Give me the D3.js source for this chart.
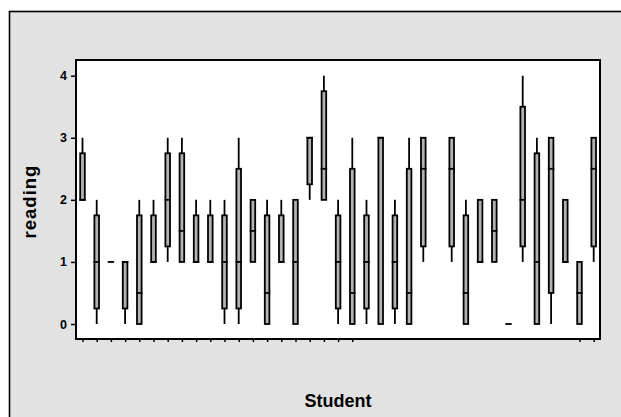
<!DOCTYPE html>
<html>
<head>
<meta charset="utf-8">
<script src="https://cdn.jsdelivr.net/npm/d3@7"></script>
<style>
  html, body { margin: 0; padding: 0; background: #ffffff; }
  svg { display: block; }
  text { font-family: "Liberation Sans", Arial, sans-serif; font-weight: bold; fill: #000; }
</style>
</head>
<body>
<svg id="chart" width="621" height="417"></svg>
<script>
// Reading scores per student: whisker low, first quartile, median, third quartile, whisker high.
// A null entry is a student with no scores.
const students = d3.range(1, 38);
const lowWhisker = [2, 0, 1, 0, 0, 1, 1, 1, 1, 1, 0, 0, 1, 0, 1, 0, 2, 2, 0, 0, 0, 0, 0, 0, 1, null, 1, 0, 1, 1, 0, 1, 0, 0, 1, 0, 1];
const quartile1  = [2, 0.25, 1, 0.25, 0, 1, 1.25, 1, 1, 1, 0.25, 0.25, 1, 0, 1, 0, 2.25, 2, 0.25, 0, 0.25, 0, 0.25, 0, 1.25, null, 1.25, 0, 1, 1, 0, 1.25, 0, 0.5, 1, 0, 1.25];
const medians    = [2, 1, 1, 1, 0.5, 1, 2, 1.5, 1, 1, 1, 1, 1.5, 0.5, 1, 1, 3, 2.5, 1, 0.5, 1, 3, 1, 0.5, 2.5, null, 2.5, 0.5, 1, 1.5, 0, 2, 1, 2.5, 1, 0.5, 2.5];
const quartile3  = [2.75, 1.75, 1, 1, 1.75, 1.75, 2.75, 2.75, 1.75, 1.75, 1.75, 2.5, 2, 1.75, 1.75, 2, 3, 3.75, 1.75, 2.5, 1.75, 3, 1.75, 2.5, 3, null, 3, 1.75, 2, 2, 0, 3.5, 2.75, 3, 2, 1, 3];
const highWhisker = [3, 2, 1, 1, 2, 2, 3, 3, 2, 2, 2, 3, 2, 2, 2, 2, 3, 4, 2, 3, 2, 3, 2, 3, 3, null, 3, 2, 2, 2, 0, 4, 3, 3, 2, 1, 3];
const yTicks = [0, 1, 2, 3, 4];
// Students whose axis tick is drawn
const tickedStudents = [1, 2, 3, 4, 5, 6, 7, 8, 9, 10, 11, 12, 13, 14, 15, 16, 17, 18, 19, 20, 36, 37];

const rows = students.map((s, i) => ({
  student: s,
  lo: lowWhisker[i], q1: quartile1[i], med: medians[i], q3: quartile3[i], hi: highWhisker[i]
})).filter(d => d.q1 !== null);

const svg = d3.select("#chart");

// Grey outer panel
svg.append("rect")
  .attr("x", 9.5).attr("y", 11.5)
  .attr("width", 700).attr("height", 500)
  .attr("fill", "#e2e2e2")
  .attr("stroke", "#000").attr("stroke-width", 1.6);

// Plot region
const plot = { left: 76, top: 60, right: 600, bottom: 339 };

const x = d3.scaleLinear().domain([1, 37]).range([82.5, 593.7]);
const y = d3.scaleLinear().domain([0, 4]).range([324, 75.7]);

svg.append("rect")
  .attr("x", plot.left).attr("y", plot.top)
  .attr("width", plot.right - plot.left).attr("height", plot.bottom - plot.top)
  .attr("fill", "#ffffff")
  .attr("stroke", "#000").attr("stroke-width", 2);

// Y axis ticks and labels
const yAxis = d3.axisLeft(y).tickValues(yTicks).tickFormat(d3.format("d")).tickSize(5).tickPadding(4);
const gy = svg.append("g").attr("transform", `translate(${plot.left},0)`).call(yAxis);
gy.select(".domain").remove();
gy.selectAll(".tick line").attr("stroke", "#000").attr("stroke-width", 1.5);
gy.selectAll(".tick text").attr("font-size", 12.5).attr("font-weight", "bold")
  .attr("font-family", "Liberation Sans, Arial, sans-serif").attr("fill", "#000");

// X axis ticks (no labels)
const xAxis = d3.axisBottom(x).tickValues(tickedStudents).tickFormat("").tickSize(3);
const gx = svg.append("g").attr("transform", `translate(0,${plot.bottom})`).call(xAxis);
gx.select(".domain").remove();
gx.selectAll(".tick line").attr("stroke", "#000").attr("stroke-width", 1.5);

// Boxes
const boxW = 4.6;
const g = svg.append("g");

const box = g.selectAll("g.box").data(rows).join("g").attr("class", "box");

// Whiskers
box.filter(d => d.hi > d.q3).append("line")
  .attr("x1", d => x(d.student)).attr("x2", d => x(d.student))
  .attr("y1", d => y(d.q3)).attr("y2", d => y(d.hi))
  .attr("stroke", "#000").attr("stroke-width", 1.8);
box.filter(d => d.lo < d.q1).append("line")
  .attr("x1", d => x(d.student)).attr("x2", d => x(d.student))
  .attr("y1", d => y(d.q1)).attr("y2", d => y(d.lo))
  .attr("stroke", "#000").attr("stroke-width", 1.8);

// Interquartile boxes
box.filter(d => d.q3 > d.q1).append("rect")
  .attr("x", d => x(d.student) - boxW / 2)
  .attr("y", d => y(d.q3))
  .attr("width", boxW)
  .attr("height", d => y(d.q1) - y(d.q3))
  .attr("fill", "#b3b3b3")
  .attr("stroke", "#000").attr("stroke-width", 1.8);

// Medians (and collapsed boxes)
box.append("line")
  .attr("x1", d => x(d.student) - boxW / 2 - 0.9)
  .attr("x2", d => x(d.student) + boxW / 2 + 0.9)
  .attr("y1", d => y(d.med)).attr("y2", d => y(d.med))
  .attr("stroke", "#000").attr("stroke-width", 1.8);

// Axis titles
svg.append("text")
  .attr("transform", `translate(36,${(plot.top + plot.bottom) / 2 + 2}) rotate(-90)`)
  .attr("text-anchor", "middle")
  .attr("font-size", 18.5)
  .attr("letter-spacing", 1)
  .text("reading");

svg.append("text")
  .attr("x", (plot.left + plot.right) / 2).attr("y", 407)
  .attr("text-anchor", "middle")
  .attr("font-size", 18)
  .text("Student");
</script>
</body>
</html>
